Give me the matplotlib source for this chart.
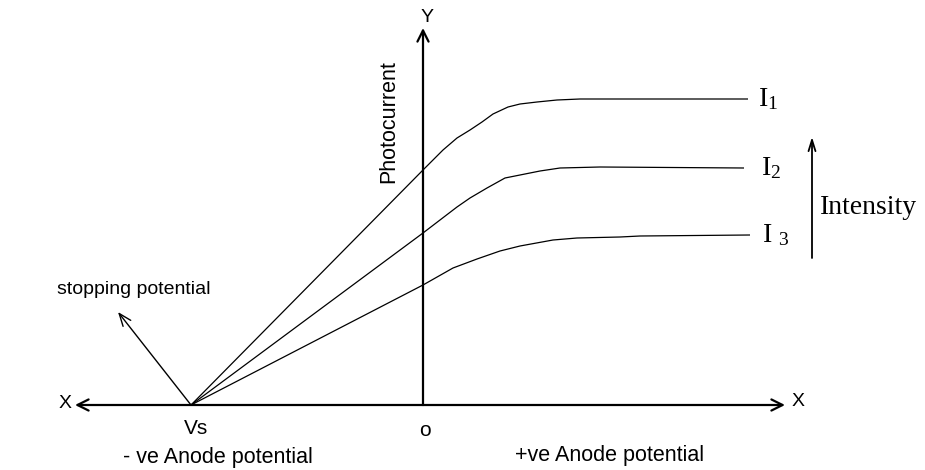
import numpy as np
import matplotlib
matplotlib.use("Agg")
import matplotlib.pyplot as plt

plt.rcParams["mathtext.fontset"] = "custom"
plt.rcParams["mathtext.rm"] = "Liberation Serif"
plt.rcParams["mathtext.it"] = "Liberation Serif"

# photocurrent curves (x = anode potential, y = current, arbitrary units)
v_stop = -232
I1_x = [-232, 0, 20, 34, 47, 59, 70, 85, 97, 114, 134, 157, 325]
I1_y = [0, 235, 255, 267, 275, 283, 291, 298, 301, 303, 305, 306, 306]
I2_x = [-232, 0, 17, 34, 47, 64, 82, 97, 117, 137, 177, 321]
I2_y = [0, 172, 185, 198, 207, 217, 227, 230, 234, 237, 238, 237]
I3_x = [-232, 0, 30, 54, 77, 97, 130, 154, 197, 217, 327]
I3_y = [0, 120, 137, 146, 154, 159, 165, 167, 168, 169, 170]
curve_labels = ["I$_{\\mathrm{1}}$", "I$_{\\mathrm{2}}$", "I $_{\\mathrm{3}}$"]

fig = plt.figure(figsize=(9.25, 4.7), dpi=100)
ax = fig.add_axes([0, 0, 1, 1])
ax.set_xlim(-423, 502)
ax.set_ylim(-65, 405)
ax.axis("off")

sans = "Liberation Sans"
serif = "Liberation Serif"

# axes with arrows
axis_arrow = dict(arrowstyle="->,head_length=0.8,head_width=0.4", lw=1.6, color="black",
                  shrinkA=0, shrinkB=0)
ax.annotate("", xy=(-348, 0), xytext=(0, 0), arrowprops=axis_arrow)
ax.annotate("", xy=(362, 0), xytext=(0, 0), arrowprops=axis_arrow)
ax.annotate("", xy=(0, 377), xytext=(0, 0), arrowprops=axis_arrow)

# curves
for xs, ys in [(I1_x, I1_y), (I2_x, I2_y), (I3_x, I3_y)]:
    ax.plot(xs, ys, color="black", lw=0.9, solid_capstyle="butt", solid_joinstyle="round")

# curve labels
ax.text(I1_x[-1] + 10, I1_y[-1], curve_labels[0], family=serif, fontsize=20, va="center", ha="left")
ax.text(I2_x[-1] + 17, I2_y[-1], curve_labels[1], family=serif, fontsize=20, va="center", ha="left")
ax.text(I3_x[-1] + 12, I3_y[-1], curve_labels[2], family=serif, fontsize=20, va="center", ha="left")

# intensity arrow
ax.annotate("", xy=(389, 268), xytext=(389, 147),
            arrowprops=dict(arrowstyle="->,head_length=0.8,head_width=0.25", lw=1.3, color="black",
                            shrinkA=0, shrinkB=0))
ax.text(397, 198, "Intensity", family=serif, fontsize=20, va="center", ha="left")

# stopping potential arrow
ax.annotate("", xy=(-305, 93), xytext=(v_stop, 0),
            arrowprops=dict(arrowstyle="->,head_length=0.9,head_width=0.35", lw=1.0, color="black",
                            shrinkA=0, shrinkB=0))
ax.text(-366, 115, "stopping potential", family=sans, fontsize=14, va="center", ha="left")

# axis labels
ax.text(-351, 1, "X", family=sans, fontsize=14, va="center", ha="right")
ax.text(369, 3, "X", family=sans, fontsize=14, va="center", ha="left")
ax.text(4, 388, "Y", family=sans, fontsize=14, va="center", ha="center")
ax.text(-34, 283, "Photocurrent", family=sans, fontsize=15.5, rotation=90, va="center", ha="center")
ax.text(v_stop + 5, -23, "Vs", family=sans, fontsize=15, va="center", ha="center")
ax.text(-205, -52, "- ve Anode potential", family=sans, fontsize=15.5, va="center", ha="center")
ax.text(2, -25, "o", family=sans, fontsize=15, va="center", ha="center")
ax.text(187, -50, "+ve Anode potential", family=sans, fontsize=15.5, va="center", ha="center")

fig.savefig("out.png", dpi=100, facecolor="white")
